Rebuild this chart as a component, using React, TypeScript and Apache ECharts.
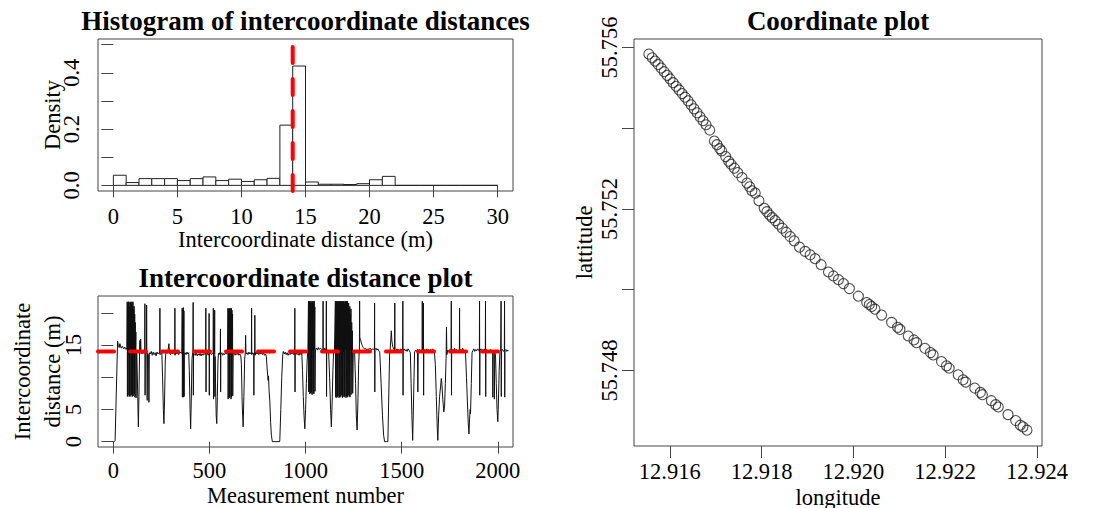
import React, { useEffect, useRef } from "react";
import * as echarts from "echarts";

// ---------- Histogram of intercoordinate distances ----------
const histBreaks = [0, 1, 2, 3, 4, 5, 6, 7, 8, 9, 10, 11, 12, 13, 14, 15, 16, 17, 18, 19, 20, 21, 22, 23, 24, 25, 26, 27, 28, 29, 30];
const histDensity = [0.036, 0.01, 0.024, 0.024, 0.024, 0.017, 0.024, 0.03, 0.017, 0.022, 0.014, 0.02, 0.025, 0.214, 0.424, 0.012, 0.004, 0.004, 0.003, 0.006, 0.02, 0.032, 0, 0, 0, 0, 0, 0, 0, 0];
const histTicks = [0, 5, 10, 15, 20, 25, 30];
const densityTicks = [0, 0.1, 0.2, 0.3, 0.4, 0.5];
const densityLabels = [0, 0.2, 0.4];
const medianDistance = 14;

// ---------- Intercoordinate distance plot ----------
const measurementTicks = [0, 500, 1000, 1500, 2000];
const distanceTicks = [0, 5, 10, 15, 20];
const distanceLabels = [0, 5, 15];
// [measurement number, distance (m)]
const distanceTrace: [number, number][] = [
  [1, 0], [5, 0], [9, 0.2], [22, 15.6], [26, 14.9], [30, 14.6], [34, 15.2], [38, 14.7], [42, 14.5], [46, 14.8], [50, 14.6], [54, 14.4], [58, 14.7], [62, 14.5], [66, 14.3], [70, 14.6],
  [72, 21.7], [73, 7.0], [75, 21.5], [76, 7.2], [78, 21.7], [79, 13.5], [81, 21.7], [82, 7.0], [84, 20.9], [85, 7.1], [87, 21.6], [88, 14.2], [90, 21.7], [91, 7.0], [93, 21.2], [94, 7.3], [96, 21.7], [97, 13.8], [99, 21.5], [100, 7.0], [102, 21.7], [103, 7.1], [105, 20.5], [106, 13.9], [108, 21.0], [109, 7.4], [111, 19.8], [112, 6.9], [114, 18.5], [115, 13.6], [117, 17.0], [118, 6.8], [120, 14.2],
  [122, 13.8], [126, 8], [130, 2.3], [133, 7], [136, 13.6], [138, 15.7], [140, 13.9], [142, 15.9], [144, 13.7],
  [163, 13.8], [164, 21.4], [165, 7.2], [166, 13.6], [172, 13.9], [173, 21.2], [174, 13.5], [176, 6.4], [178, 13.7], [183, 13.5], [185, 6.1], [187, 13.8],
  [192, 13.6], [197, 14.0], [202, 13.4], [207, 13.9], [212, 13.5], [217, 13.8], [222, 13.3], [227, 13.9], [232, 13.6], [237, 13.8],
  [241, 13.7], [242, 20.7], [243, 13.5],
  [252, 13.8], [256, 10], [260, 5], [263, 2.8], [266, 6], [270, 12.5], [273, 13.9],
  [280, 13.7], [285, 14.3], [289, 15.2], [292, 13.8], [297, 13.5], [302, 13.9], [307, 13.6], [312, 13.8],
  [319, 13.6], [320, 20.7], [321, 13.4], [325, 13.9], [330, 13.6], [335, 13.8], [340, 13.5], [345, 13.9],
  [356, 13.7], [358, 20.7], [359, 6.9], [361, 20.5], [362, 7.1], [364, 20.8], [365, 6.9], [367, 20.3], [368, 7.0], [369, 13.6],
  [373, 13.8], [378, 13.5], [383, 13.9], [388, 13.6], [392, 13.8],
  [395, 11], [399, 5], [402, 2.0], [405, 6], [409, 12.8], [412, 13.7],
  [414, 13.6], [415, 21.6], [416, 7.2], [417, 13.8],
  [421, 13.5], [426, 13.4], [431, 13.8], [436, 13.3], [441, 13.6], [446, 13.4], [451, 13.7], [456, 13.3], [461, 13.6], [466, 13.4], [471, 13.7], [476, 13.5],
  [480, 13.6], [481, 20.7], [482, 7.7], [483, 13.5], [488, 13.8], [493, 13.4], [497, 13.7], [498, 19.9], [499, 7.2], [500, 13.6], [505, 13.8], [510, 13.5], [515, 13.7], [519, 13.6], [520, 20.7], [521, 6.6], [522, 13.5], [526, 13.8], [527, 20.4], [528, 7.0], [529, 13.2],
  [531, 10], [535, 4], [538, 2.8], [541, 7], [544, 12.5], [547, 13.7], [550, 13.5], [554, 13.8],
  [556, 13.6], [557, 17.5], [558, 7.7], [559, 13.5], [564, 13.8], [569, 13.4], [574, 13.7], [579, 13.5], [584, 13.8], [589, 13.6],
  [594, 13.7], [596, 20.7], [597, 6.6], [599, 20.5], [600, 13.4], [602, 20.7], [603, 6.8], [605, 20.6], [606, 7.0], [608, 20.7], [609, 13.5], [611, 20.2], [612, 6.6], [614, 20.7], [615, 6.9], [617, 20.4], [618, 13.6], [620, 19.8], [621, 7.1], [623, 13.5],
  [628, 13.8], [633, 13.4], [638, 13.7], [643, 13.5], [648, 13.8], [653, 13.4], [658, 13.6], [663, 13.3],
  [666, 12], [670, 6], [675, 2.3], [679, 7], [683, 12.8], [686, 13.7], [688, 16.5], [690, 13.6],
  [695, 13.8], [700, 13.5], [705, 13.9], [710, 13.6], [715, 13.8], [718, 13.6], [719, 20.7], [720, 13.5], [725, 13.8], [730, 13.6], [731, 7.2], [732, 13.7], [735, 13.5], [736, 19.6], [737, 13.4], [742, 13.9], [747, 13.6], [752, 13.8], [757, 13.5], [762, 13.9], [767, 13.6], [772, 13.8], [777, 13.5], [782, 13.7], [787, 13.4], [792, 13.6],
  [796, 13.2], [800, 11.3], [805, 9.5], [807, 10.2], [810, 8], [814, 6.2], [818, 3], [822, 1], [827, 0], [845, 0], [865, 0],
  [866, 0.3], [871, 5], [876, 10], [881, 13.5], [884, 14.0],
  [889, 13.6], [894, 13.9], [899, 13.5], [904, 13.8], [909, 13.4], [914, 13.7], [919, 13.5], [924, 13.8], [929, 13.6], [934, 13.9], [939, 13.5], [943, 13.7], [944, 20.7], [945, 7.7], [946, 13.6], [951, 13.8], [956, 13.5], [961, 13.7], [966, 13.4], [971, 13.8], [976, 13.5],
  [980, 13.9], [984, 11], [988, 7], [992, 4], [996, 2.0], [1000, 5], [1004, 9], [1008, 12.5], [1012, 14.2],
  [1015, 21.8], [1016, 7.7], [1018, 21.6], [1019, 14.3], [1021, 21.8], [1022, 7.4], [1024, 21.7], [1025, 7.6], [1027, 21.8], [1028, 14.0], [1030, 21.5], [1031, 7.5], [1033, 21.8], [1034, 7.3], [1036, 21.7], [1037, 14.2], [1039, 21.8], [1040, 7.6], [1042, 21.4], [1043, 7.4], [1045, 21.8], [1046, 14.4], [1048, 20.9], [1049, 7.8], [1051, 14.3],
  [1056, 14.5], [1061, 14.2], [1066, 14.6], [1071, 14.3], [1076, 14.5],
  [1090, 14.2], [1091, 21.8], [1092, 14.4], [1097, 14.1], [1100, 14.5], [1107, 14.2], [1108, 21.8], [1109, 7.0], [1110, 14.3], [1115, 14.1],
  [1120, 13.8], [1125, 10], [1130, 5], [1134, 2.3], [1138, 6], [1142, 11], [1146, 14.2],
  [1150, 14.0], [1155, 21.8], [1156, 7.0], [1158, 21.7], [1159, 6.8], [1161, 21.8], [1162, 13.9], [1164, 21.6], [1165, 6.9], [1167, 21.8], [1168, 7.1], [1170, 21.8], [1171, 14.2], [1173, 21.7], [1174, 6.8], [1176, 21.8], [1177, 7.0], [1179, 21.5], [1180, 13.8], [1182, 21.8], [1183, 6.9], [1185, 21.8], [1186, 7.2], [1188, 21.7], [1189, 14.1], [1191, 21.8], [1192, 6.8], [1194, 21.6], [1195, 7.0], [1197, 21.8], [1198, 13.9], [1200, 21.8], [1201, 6.9], [1203, 21.4], [1204, 7.1], [1206, 21.8], [1207, 14.3], [1209, 21.7], [1210, 6.8], [1212, 21.8], [1213, 7.0], [1215, 21.2], [1216, 14.0], [1218, 21.8], [1219, 6.9], [1221, 20.8], [1222, 7.2], [1224, 21.5], [1225, 14.2], [1227, 20.5], [1228, 7.0], [1230, 21.0], [1231, 6.9], [1233, 19.8], [1234, 14.1], [1236, 20.6], [1237, 7.3], [1240, 18.5], [1241, 14.0], [1244, 17.2], [1245, 7.5], [1248, 14.2],
  [1255, 13.9], [1260, 9], [1264, 4], [1268, 1.8], [1272, 6], [1276, 12], [1279, 14.0],
  [1280, 14.2], [1281, 21.8], [1282, 16.2], [1286, 15.8], [1290, 15.3], [1295, 14.9], [1300, 14.6], [1306, 14.4], [1312, 14.5], [1318, 14.2], [1324, 14.4], [1330, 14.3], [1336, 14.5], [1342, 14.2], [1348, 14.4], [1354, 14.3],
  [1358, 14.2], [1359, 21.5], [1360, 7.7], [1361, 14.3], [1366, 14.5], [1371, 14.2], [1376, 14.4], [1381, 14.1],
  [1386, 13.8], [1393, 9], [1400, 4], [1406, 1], [1411, 0], [1420, 0], [1428, 0], [1432, 6], [1437, 13.6],
  [1440, 14.3], [1446, 17.2], [1449, 15.6], [1453, 14.8], [1458, 14.4], [1463, 14.2], [1464, 21.5], [1465, 14.3], [1470, 14.1], [1475, 14.4], [1480, 14.2], [1485, 14.3], [1490, 14.1], [1495, 14.4], [1500, 14.2],
  [1505, 14.3], [1506, 21.8], [1507, 7.2], [1508, 14.2], [1513, 14.4], [1518, 14.1], [1523, 14.3], [1528, 14.0], [1533, 14.4], [1538, 14.2],
  [1545, 13.8], [1549, 9], [1553, 4], [1557, 0.2], [1560, 4], [1564, 10], [1567, 13.9],
  [1572, 14.2], [1577, 14.0], [1582, 14.3], [1584, 7.7], [1586, 14.1], [1591, 14.3], [1596, 14.0], [1601, 14.2],
  [1606, 14.1], [1607, 21.8], [1608, 14.0], [1611, 14.3], [1613, 21.5], [1614, 7.2], [1615, 14.1], [1620, 14.3], [1625, 14.0], [1630, 14.4], [1635, 14.1], [1640, 14.3], [1645, 14.0], [1650, 14.3], [1655, 14.1], [1660, 14.4], [1665, 14.2], [1670, 14.0],
  [1675, 12], [1680, 7], [1685, 2], [1688, 0.2], [1692, 4], [1697, 7], [1702, 8.5], [1706, 9.8], [1709, 9.0], [1714, 6.5], [1719, 4.6], [1723, 5.5], [1727, 9], [1731, 12.9], [1733, 17.8], [1735, 13.5], [1740, 14.2],
  [1745, 14.0], [1750, 14.3], [1755, 14.1], [1757, 14.2], [1758, 21.8], [1759, 7.2], [1760, 14.0], [1765, 14.3], [1770, 14.0], [1775, 14.5], [1780, 14.1], [1785, 14.3], [1790, 14.0], [1795, 14.2], [1800, 14.1], [1801, 20.7], [1802, 14.0], [1807, 14.3], [1812, 14.1], [1817, 14.5], [1822, 14.2], [1827, 14.0],
  [1832, 13.8], [1837, 10], [1842, 6], [1846, 3], [1850, 1.2], [1853, 3.5], [1856, 5], [1858, 4.3], [1862, 9], [1866, 13.8],
  [1870, 14.1], [1875, 14.4], [1880, 14.0], [1885, 14.3], [1890, 14.1], [1895, 14.4], [1900, 14.2], [1904, 14.0], [1905, 21.8], [1906, 7.2], [1907, 14.1], [1912, 14.4], [1917, 14.0], [1922, 14.3], [1927, 14.1], [1932, 14.4], [1935, 14.0], [1936, 21.8], [1937, 7.0], [1938, 14.2],
  [1943, 14.3], [1948, 14.0], [1953, 14.2], [1958, 13.9], [1963, 14.3], [1968, 14.1], [1973, 14.0], [1974, 6.9], [1975, 14.2], [1980, 13.9], [1982, 6.6], [1984, 13.8],
  [1988, 13.5], [1992, 9], [1996, 5], [2000, 3.1], [2003, 6], [2007, 11], [2011, 14.0],
  [2015, 14.2], [2017, 21.8], [2018, 7.0], [2019, 14.1], [2024, 14.3], [2029, 14.0], [2034, 14.2], [2035, 21.8], [2036, 6.9], [2037, 14.1], [2042, 14.3], [2047, 14.0], [2052, 14.2], [2056, 14.1],
];

// ---------- Coordinate plot ----------
const longitude = [
  12.915543, 12.915616, 12.915681, 12.915746, 12.915812, 12.915877, 12.915942, 12.916007, 12.916072, 12.916138,
  12.916203, 12.916268, 12.916333, 12.916399, 12.916464, 12.916529, 12.916594, 12.916659, 12.916725, 12.91679,
  12.91687, 12.916971, 12.917029, 12.917087, 12.91713, 12.917217, 12.917283, 12.917333, 12.917406, 12.917478,
  12.917572, 12.917681, 12.917739, 12.91779, 12.917862, 12.917942, 12.918058, 12.918116, 12.918174, 12.918232,
  12.918297, 12.91837, 12.918449, 12.918536, 12.918623, 12.91871, 12.918826, 12.918949, 12.919058, 12.919167,
  12.919297, 12.919457, 12.919565, 12.919674, 12.919783, 12.919913, 12.920109, 12.92029, 12.920348, 12.920399,
  12.920471, 12.920616, 12.920833, 12.920964, 12.921014, 12.921196, 12.921319, 12.921377, 12.921558, 12.921681,
  12.921739, 12.92192, 12.922029, 12.922087, 12.922283, 12.922391, 12.922449, 12.922645, 12.922768, 12.922812,
  12.923007, 12.923101, 12.923159, 12.92337, 12.923536, 12.923638, 12.923696, 12.923783,
];
const latitude = [
  55.755836, 55.755745, 55.755663, 55.755581, 55.755491, 55.7554, 55.75531, 55.75522, 55.755129, 55.755039,
  55.754949, 55.754858, 55.754768, 55.754678, 55.754579, 55.75448, 55.754382, 55.754283, 55.754185, 55.754086,
  55.753955, 55.753684, 55.753593, 55.753495, 55.753437, 55.753298, 55.753183, 55.753109, 55.75301, 55.752903,
  55.75278, 55.752641, 55.75255, 55.752452, 55.752394, 55.752205, 55.752016, 55.751934, 55.751852, 55.751786,
  55.751712, 55.751622, 55.751524, 55.751425, 55.751318, 55.751211, 55.751055, 55.750949, 55.750866, 55.750768,
  55.75062, 55.750439, 55.750341, 55.75025, 55.750152, 55.750029, 55.74984, 55.749684, 55.749634, 55.749585,
  55.749519, 55.749372, 55.749191, 55.749068, 55.749018, 55.748854, 55.748756, 55.74869, 55.74855, 55.748443,
  55.748386, 55.748222, 55.748115, 55.748057, 55.747893, 55.74777, 55.747712, 55.747565, 55.747458, 55.7474,
  55.747252, 55.747154, 55.747096, 55.746907, 55.74676, 55.746645, 55.746604, 55.746522,
];
const lonTicks = [12.916, 12.918, 12.92, 12.922, 12.924];
const latTicks = [55.748, 55.75, 55.752, 55.754, 55.756];
const latLabels = [55.748, 55.752, 55.756];

const FONT = "Liberation Serif";
const TXT = { color: "#000", fontFamily: FONT, fontSize: 22.5 };
const BOX = "#444";

function valueAxis(opts: any) {
  const { grid, min, max, ticks, labels, fmt, name, nameGap, margin, rotate, lineHeight } = opts;
  return {
    gridIndex: grid,
    type: "value",
    min,
    max,
    axisLine: { show: false },
    splitLine: { show: false },
    axisTick: { show: true, length: 12, customValues: ticks, lineStyle: { color: BOX, width: 1 } },
    axisLabel: { ...TXT, lineHeight: 18, customValues: labels, margin, rotate: rotate || 0, formatter: fmt, hideOverlap: false, showMinLabel: true, showMaxLabel: true },
    name,
    nameLocation: "middle",
    nameGap,
    nameMoveOverlap: false,
    nameTextStyle: { ...TXT, lineHeight: lineHeight || 18 },
  };
}

const gridBase = { show: true, borderColor: BOX, borderWidth: 1, backgroundColor: "transparent", containLabel: false, outerBoundsMode: "none" };

export default function App() {
  const ref = useRef<HTMLDivElement>(null);
  useEffect(() => {
    if (!ref.current) return;
    const chart = echarts.init(ref.current, undefined, { renderer: "svg" });
    const histData = histDensity.map((d, i) => [histBreaks[i], histBreaks[i + 1], d]);
    const coordData = longitude.map((lon, i) => [lon, latitude[i]]);
    const titleStyle = { fontFamily: FONT, fontSize: 27, fontWeight: "bold", fill: "#000", align: "center", verticalAlign: "middle" };
    const option: any = {
      animation: false,
      backgroundColor: "#fff",
      grid: [
        { ...gridBase, left: 98, top: 39, width: 415, height: 152 },
        { ...gridBase, left: 98, top: 296, width: 415, height: 151 },
        { ...gridBase, left: 634, top: 39, width: 408, height: 407 },
      ],
      xAxis: [
        valueAxis({ grid: 0, min: -1.2, max: 31.2, ticks: histTicks, labels: histTicks, fmt: (v: number) => String(v), name: "Intercoordinate distance (m)", nameGap: 39, margin: 16 }),
        valueAxis({ grid: 1, min: -80, max: 2079, ticks: measurementTicks, labels: measurementTicks, fmt: (v: number) => String(v), name: "Measurement number", nameGap: 39, margin: 14 }),
        valueAxis({ grid: 2, min: 12.91522, max: 12.92411, ticks: lonTicks, labels: lonTicks, fmt: (v: number) => v.toFixed(3), name: "longitude", nameGap: 42, margin: 16 }),
      ],
      yAxis: [
        valueAxis({ grid: 0, min: -0.02, max: 0.52, ticks: densityTicks, labels: densityLabels, fmt: (v: number) => v.toFixed(1), name: "Density", nameGap: 37, margin: 18, rotate: 90 }),
        valueAxis({ grid: 1, min: -0.83, max: 22.6, ticks: distanceTicks, labels: distanceLabels, fmt: (v: number) => String(v), name: "Intercoordinate\ndistance (m)", nameGap: 31, margin: 16, rotate: 90, lineHeight: 30 }),
        valueAxis({ grid: 2, min: 55.74613, max: 55.75621, ticks: latTicks, labels: latLabels, fmt: (v: number) => v.toFixed(3), name: "lattitude", nameGap: 41, margin: 16, rotate: 90 }),
      ],
      graphic: [
        { type: "text", x: 305.5, y: 21, style: { ...titleStyle, text: "Histogram of intercoordinate distances" } },
        { type: "text", x: 305.5, y: 278, style: { ...titleStyle, text: "Intercoordinate distance plot" } },
        { type: "text", x: 838, y: 21, style: { ...titleStyle, text: "Coordinate plot" } },
      ],
      series: [
        {
          type: "custom",
          xAxisIndex: 0,
          yAxisIndex: 0,
          data: histData,
          encode: { x: [0, 1], y: 2 },
          renderItem: (params: any, api: any) => {
            const p0 = api.coord([api.value(0), api.value(2)]);
            const p1 = api.coord([api.value(1), 0]);
            return {
              type: "rect",
              shape: { x: p0[0], y: p0[1], width: p1[0] - p0[0], height: p1[1] - p0[1] },
              style: { fill: "#fff", stroke: "#222", lineWidth: 1 },
            };
          },
        },
        {
          type: "line",
          xAxisIndex: 0,
          yAxisIndex: 0,
          data: [[medianDistance, -0.02], [medianDistance, 0.52]],
          symbol: "none",
          lineStyle: { color: "#ff0000", width: 4, type: [16, 16], cap: "round" },
          z: 5,
        },
        {
          type: "line",
          xAxisIndex: 1,
          yAxisIndex: 1,
          data: distanceTrace,
          symbol: "none",
          clip: true,
          lineStyle: { color: "#111", width: 1 },
          z: 3,
        },
        {
          type: "line",
          xAxisIndex: 1,
          yAxisIndex: 1,
          data: [[-80, medianDistance], [2079, medianDistance]],
          symbol: "none",
          lineStyle: { color: "#ff0000", width: 4, type: [16, 16], cap: "round" },
          z: 5,
        },
        {
          type: "scatter",
          xAxisIndex: 2,
          yAxisIndex: 2,
          data: coordData,
          symbol: "circle",
          symbolSize: 10,
          itemStyle: { color: "rgba(0,0,0,0)", borderColor: "#222", borderWidth: 1.1 },
        },
      ],
    };
    chart.setOption(option);
    return () => chart.dispose();
  }, []);
  return (
    <div
      ref={ref}
      style={{ position: "fixed", left: 0, top: 0, width: 1093, height: 508, background: "#fff" }}
    />
  );
}
